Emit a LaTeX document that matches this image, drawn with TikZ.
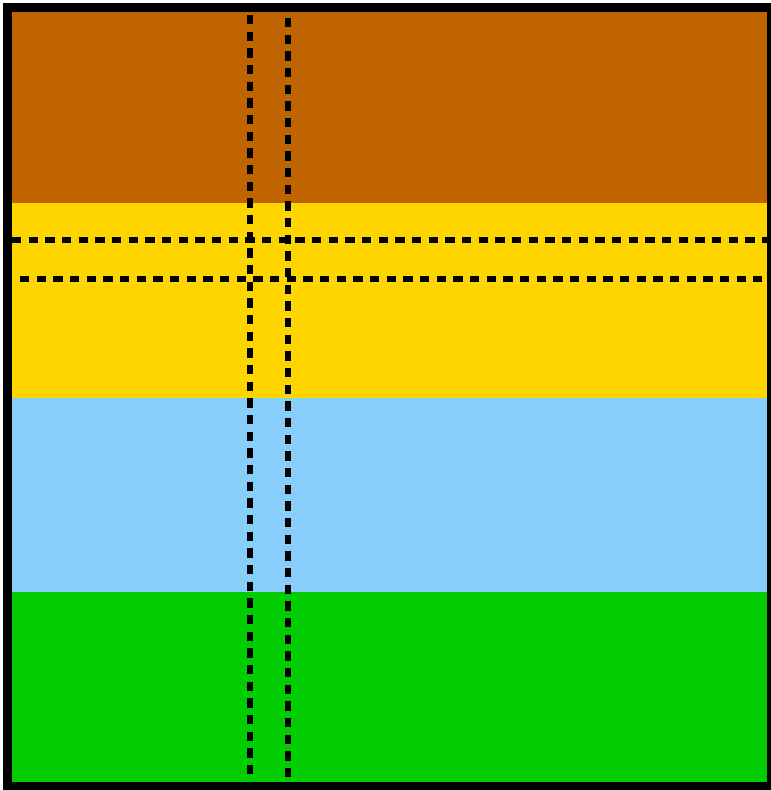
\documentclass[tikz,border=0pt]{standalone}
\usepackage{tikz}
\usepackage{xcolor}
\definecolor{soiltop}{HTML}{C06400}
\definecolor{sandlayer}{HTML}{FFD500}
\definecolor{waterlayer}{HTML}{87CEFA}
\definecolor{grasslayer}{HTML}{00CC00}

\begin{document}
\begin{tikzpicture}[x=0.75pt,y=-0.75pt]
\useasboundingbox (0,0) rectangle (771,790);
\begin{scope}
\clip (0,0) rectangle (771,790);
% layers
\fill[soiltop] (12,12) rectangle (767,203);
\fill[sandlayer] (12,203) rectangle (767,398);
\fill[waterlayer] (12,398) rectangle (767,592);
\fill[grasslayer] (12,592) rectangle (767,782);
% cut lines
\draw[dash pattern=on 7pt off 5.5pt,line width=4pt] (250,15)--(250,790);
\draw[dash pattern=on 7pt off 5.5pt,line width=4pt] (288,18)--(288,778);
\draw[dash pattern=on 7pt off 5.5pt,line width=4pt] (12,240)--(767,240);
\draw[dash pattern=on 7pt off 5.5pt,line width=4pt] (20,279)--(762,279);
% frame
\draw[line width=6.75pt] (7.5,7.5) rectangle (771.5,786.5);
\end{scope}
\end{tikzpicture}
\end{document}
